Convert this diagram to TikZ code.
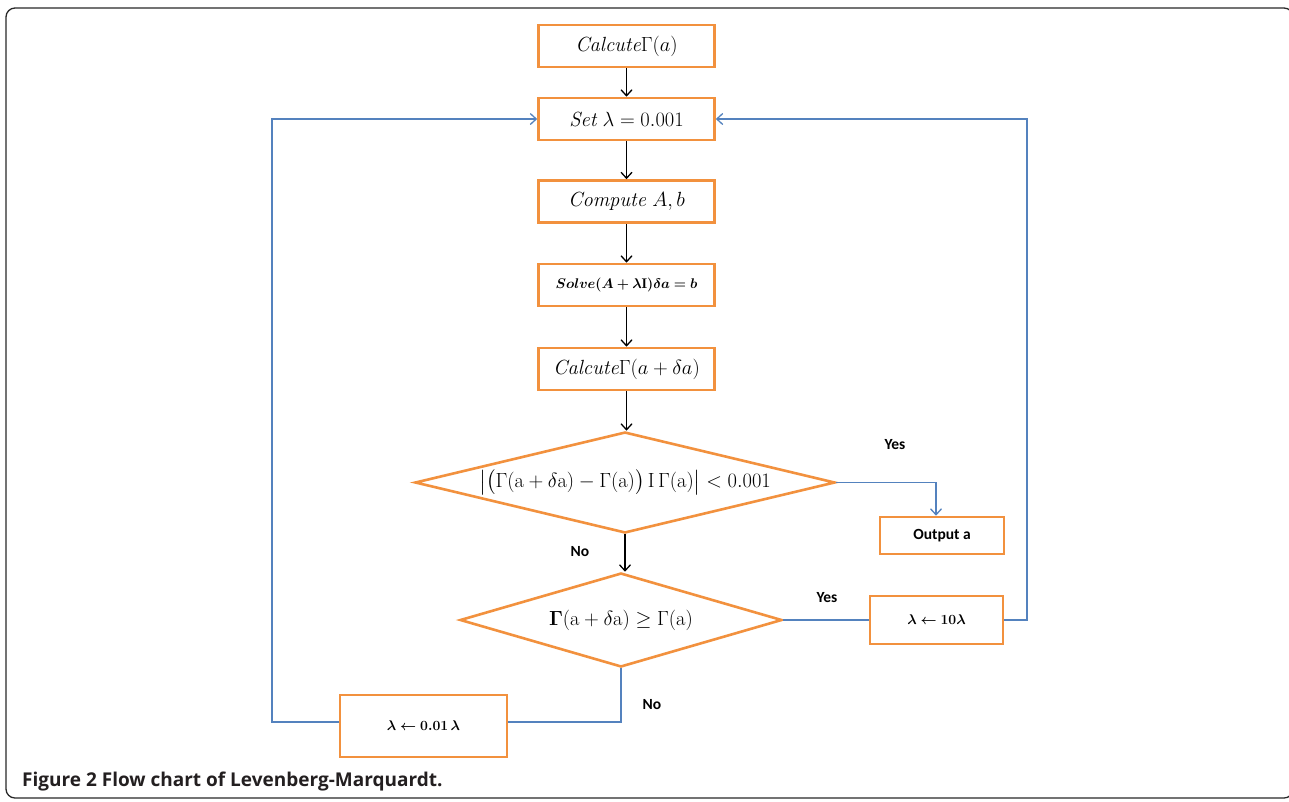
\RequirePackage{fix-cm}
\documentclass[tikz,border=0pt]{standalone}
\usepackage{amsmath}
\usepackage{fontspec}
\usepackage{bm}
\usetikzlibrary{shapes.geometric,arrows.meta}
\newfontfamily\lblfont{Carlito}
\newfontfamily\capfont{Open Sans}
\definecolor{boxorange}{RGB}{242,145,62}
\definecolor{linkblue}{RGB}{84,130,190}
\definecolor{framegray}{RGB}{40,40,40}
\definecolor{captext}{RGB}{35,31,32}
\begin{document}
\begin{tikzpicture}[x=1pt,y=-1pt,
  box/.style={draw=boxorange,line width=2.6pt,rectangle,inner sep=0pt,
    font=\fontsize{20.5}{24}\selectfont,minimum width=176pt,minimum height=42pt},
  decision/.style={draw=boxorange,line width=2.6pt,diamond,inner sep=0pt,
    font=\fontsize{20.5}{24}\selectfont},
  flow/.style={line width=1.3pt,-{Straight Barb[length=6pt,width=11pt]}},
  link/.style={draw=linkblue,line width=1.3pt},
  linkarrow/.style={link,-{Straight Barb[length=6pt,width=11pt]}},
  lbl/.style={font=\lblfont\bfseries\fontsize{15.5}{18}\selectfont,inner sep=0pt},
  small/.style={font=\fontsize{14}{16}\selectfont}]

\useasboundingbox (0,0) rectangle (1289,801);
\fill[white] (0,0) rectangle (1289,801);
\draw[framegray,line width=1.3pt,rounded corners=9pt] (6,8) rectangle (1293,798);

% main column
\node[box] (calc) at (626.5,46) {$\mathit{Calcute}\Gamma(a)$};
\node[box] (set) at (626.5,119) {$\mathit{Set}\ \lambda = 0.001$};
\node[box] (comp) at (626.5,201.5) {$\mathit{Compute}\ A, b$};
\node[box,small] (solve) at (626.5,285) {$\bm{Solve(A+\lambda\mathrm{I})\delta a = b}$};
\node[box] (calc2) at (626.5,369) {$\mathit{Calcute}\Gamma(a+\delta a)$};

\node[decision,minimum width=420pt,minimum height=101pt,shape aspect=4.16] (d1) at (625,482.5)
  {$\bigl|\bigl(\Gamma(\mathrm{a}+\delta\mathrm{a})-\Gamma(\mathrm{a})\bigr)\,\mathrm{I}\,\Gamma(\mathrm{a})\bigr| < 0.001$};
\node[decision,minimum width=322pt,minimum height=94pt,shape aspect=3.43] (d2) at (621,620)
  {$\bm{\Gamma}(\mathrm{a}+\delta\mathrm{a}) \ge \Gamma(\mathrm{a})$};

\node[box,minimum width=124pt,minimum height=37pt] (out) at (942,535.5)
  {\lblfont\bfseries\fontsize{15.5}{18}\selectfont Output a};
\node[box,small,minimum width=133pt,minimum height=48pt] (inc) at (936.5,620)
  {$\bm{\lambda \leftarrow 10\lambda}$};
\node[box,small,minimum width=167pt,minimum height=62pt] (dec) at (423.5,726)
  {$\bm{\lambda \leftarrow 0.01\,\lambda}$};

% labels
\node[lbl] (yes1) at (895,445) {Yes};
\node[lbl] (no1) at (580,552) {No};
\node[lbl] (yes2) at (827,598) {Yes};
\node[lbl] (no2) at (652,705) {No};

% black flow arrows
\draw[flow] (calc) -- (set);
\draw[flow] (set) -- (comp);
\draw[flow] (comp) -- (solve);
\draw[flow] (solve) -- (calc2);
\draw[flow] (calc2.south) -- (calc2.south |- d1.north);
\draw[flow] (d1.south) -- (d1.south |- d2.north);

% blue links
\coordinate (rtop) at (1027,119);
\coordinate (ltop) at (272,119);
\draw[linkarrow] (d1.east) -| ([xshift=-6pt]out.north);
\draw[link] (d2.east) -- (inc.west);
\draw[linkarrow] (inc.east) -| (rtop) -- (set.east);
\draw[link] (d2.south) |- ([yshift=4pt]dec.east);
\draw[linkarrow] ([yshift=4pt]dec.west) -| (ltop) -- (set.west);

% caption
\node[anchor=base west,font=\capfont\bfseries\fontsize{19}{22}\selectfont,text=captext,inner sep=0pt]
  (cap) at (22,786) {Figure 2 Flow chart of Levenberg-Marquardt.};
\end{tikzpicture}
\end{document}
